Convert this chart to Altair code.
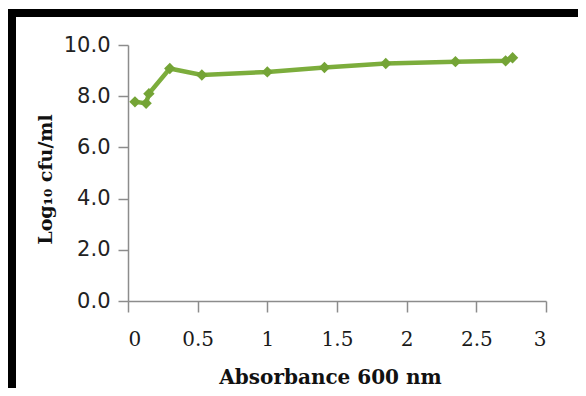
import altair as alt
import pandas as pd

absorbance = [0.05, 0.13, 0.15, 0.30, 0.53, 1.00, 1.41, 1.85, 2.35, 2.71, 2.76]
log_cfu = [7.78, 7.72, 8.1, 9.08, 8.83, 8.95, 9.12, 9.28, 9.35, 9.38, 9.5]

df = pd.DataFrame({"abs": absorbance, "cfu": log_cfu})

x_enc = alt.X("abs:Q", scale=alt.Scale(domain=[0, 3], nice=False),
              axis=alt.Axis(values=[0, 0.5, 1, 1.5, 2, 2.5, 3], format=".1~f",
                            title="Absorbance 600 nm", grid=False,
                            labelFont="DejaVu Serif", labelFontSize=20, labelColor="#1a1a1a",
                            labelPadding=17, tickSize=11,
                            titleFont="DejaVu Serif", titleFontWeight="bold", titleFontSize=20,
                            titleColor="#111", titleX=202, titleY=76, titleBaseline="middle",
                            titleAnchor="middle", titleAlign="center"))
y_enc = alt.Y("cfu:Q", scale=alt.Scale(domain=[0, 10], nice=False),
              axis=alt.Axis(values=[0, 2, 4, 6, 8, 10], format=".1f",
                            title="Log\u2081\u2080 cfu/ml", grid=False,
                            labelFont="DejaVu Sans", labelFontSize=21, labelColor="#222",
                            labelPadding=8, tickSize=10,
                            titleFont="DejaVu Serif", titleFontWeight="bold", titleFontSize=19,
                            titleColor="#111", titleX=-83, titleY=134, titleAngle=-90,
                            titleBaseline="middle", titleAlign="center"))

line = alt.Chart(df).mark_line(color="#7cad3c", strokeWidth=4.5).encode(x=x_enc, y=y_enc)
pts = alt.Chart(df).mark_point(shape="diamond", filled=True, size=130, color="#74a436",
                               opacity=1).encode(x="abs:Q", y="cfu:Q")

frame_top = alt.Chart(df).mark_rule(color="black", strokeWidth=8).encode(
    x=alt.value(-124), x2=alt.value(470), y=alt.value(-32))
frame_left = alt.Chart(df).mark_rule(color="black", strokeWidth=8).encode(
    x=alt.value(-116), y=alt.value(-36), y2=alt.value(400))

chart = alt.layer(line, pts, frame_top, frame_left).properties(
    width=418, height=256,
    autosize=alt.AutoSizeParams(type="none"),
    padding={"left": 120, "top": 37, "right": 32, "bottom": 87},
    background="white",
).configure_view(stroke=None).configure_axis(
    domainColor="#8c8c8c", tickColor="#8c8c8c", domainWidth=1.5, tickWidth=1.5
)

chart.save("out.html", embed_options={"renderer": "svg", "actions": False})
